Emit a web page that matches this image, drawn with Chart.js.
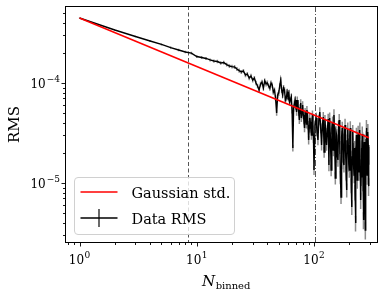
<!DOCTYPE html>
<html><head><meta charset="utf-8">
<style>html,body{margin:0;padding:0;background:#fff;}</style>
<script src="https://cdn.jsdelivr.net/npm/chart.js@4"></script>
</head><body>
<canvas id="c" width="390" height="293" style="width:390px;height:293px;display:block"></canvas>
<script>
// Gaussian std (straight line on log-log axes)
const gaussN = [1, 294];
const gaussStd = [4.47e-4, 2.83e-5];

// Binned data: N values
const binN = [1,2,3,4,5,6,7,8,9,10,11,12,13,14,15,16,17,18,19,20,
  21,22,23,24,25,26,27,28,29,30,31,32,33,34,35,36,37,38,39,40,
  41,42,43,44,45,46,47,48,49,50,51,52,53,54,55,56,57,58,59,60,
  61,62,63,64,65,66,67,68,69,70,71,72,73,74,75,76,77,78,79,80,
  81,82,83,84,85,86,87,88,89,90,91,92,93,94,95,96,97,98,99,100,
  102,104,106,108,110,112,114,116,118,120,
  122,124,126,128,130,132,134,136,138,140,
  142,144,146,148,150,152,154,156,158,160,
  162,164,166,168,170,172,174,176,178,180,
  182,184,186,188,190,192,194,196,198,200,
  202,204,206,208,210,212,214,216,218,220,
  222,224,226,228,230,232,234,236,238,240,
  242,244,246,248,250,252,254,256,258,260,
  262,264,266,268,270,272,274,276,278,280,
  282,284,286,288,290,292,294];
// RMS in units of 1e-5
const rmsE5 = [44.7,33.9,29.2,26.3,24.3,22.6,21.4,20.4,19.9,18.4,18.0,17.6,17.0,16.6,16.4,15.85,16.0,15.3,14.8,14.6,
  14.45,13.8,13.3,12.9,13.2,12.0,12.3,11.2,11.75,10.7,11.2,10.0,9.33,8.51,9.77,10.2,8.91,10.5,9.8,10.0,
  9.33,8.9,10.0,9.55,8.13,8.5,7.08,5.01,7.59,7.94,9.33,10.7,8.51,7.59,8.91,8.51,6.76,7.08,8.13,7.41,
  7.94,6.46,6.76,7.24,5.37,2.24,5.62,6.17,6.76,5.89,5.13,6.76,6.03,5.13,4.27,5.62,6.31,4.47,5.13,6.03,
  4.79,4.27,3.55,5.13,4.47,3.89,5.37,4.79,3.80,2.69,3.55,4.47,4.07,3.55,3.02,4.07,4.79,3.39,2.82,1.35,
  3.80,4.47,3.31,2.69,4.27,5.13,3.55,2.40,3.80,4.57,
  2.04,4.27,3.16,2.40,3.39,4.37,1.51,4.47,2.82,1.35,
  3.55,4.07,2.14,4.79,2.57,1.12,3.24,3.02,1.86,1.70,
  3.63,4.27,2.29,1.15,0.724,2.88,3.55,2.69,1.62,1.51,
  3.09,3.80,2.09,1.26,0.851,2.63,3.47,2.40,1.55,1.35,
  2.95,3.55,1.78,0.95,0.575,1.82,3.24,2.14,1.41,1.20,
  2.24,0.81,0.398,1.95,3.02,2.51,1.07,1.74,3.16,1.905,
  1.29,2.82,3.39,1.45,0.676,1.15,2.24,1.70,3.09,2.69,
  1.02,0.427,1.66,2.57,1.35,0.72,0.339,1.58,2.75,3.55,
  1.91,1.20,2.19,3.24,2.40,0.93,1.905];
// error bar half-length, percent of value
const errPct = [0.8,1.3,1.7,2.0,2.3,2.5,2.7,2.9,3.0,3.2,3.3,3.5,3.6,3.7,3.9,4.0,4.1,4.2,4.3,4.4,
  4.5,4.6,4.7,4.7,4.8,4.9,5.0,5.0,5.1,5.2,5.2,5.3,5.3,5.4,5.4,5.5,5.5,5.6,5.6,5.7,
  5.7,5.8,5.9,6.0,6.1,6.2,6.3,6.3,6.4,6.5,
  6.5,6.6,6.7,6.8,6.9,7.0,7.0,7.1,7.2,7.3,
  7.4,7.5,7.6,7.7,7.8,7.9,8.0,8.0,8.1,8.2,
  8.3,8.4,8.5,8.6,8.7,8.8,8.8,8.9,9.0,9.1,
  9.2,9.3,9.4,9.4,9.5,9.6,9.7,9.8,9.9,9.9,
  10.0,10.1,10.2,10.3,10.3,10.4,10.5,10.6,10.7,10.8,
  10.9,11.0,11.2,11.3,11.4,11.6,11.7,11.8,12.0,12.1,
  12.2,12.3,12.5,12.6,12.7,12.8,13.0,13.1,13.2,13.3,
  13.4,13.5,13.7,13.8,13.9,14.0,14.1,14.2,14.3,14.4,
  14.5,14.6,14.8,14.9,15.0,15.1,15.2,15.3,15.4,15.5,
  15.6,15.7,15.8,15.9,16.0,16.1,16.2,16.3,16.4,16.5,
  16.6,16.7,16.8,16.9,17.0,17.0,17.1,17.2,17.3,17.4,
  17.5,17.6,17.7,17.8,17.8,17.9,18.0,18.1,18.2,18.3,
  18.3,18.4,18.5,18.6,18.7,18.7,18.8,18.9,19.0,19.0,
  19.1,19.2,19.3,19.3,19.4,19.5,19.6,19.6,19.7,19.8,
  19.8,19.9,20.0,20.1,20.1,20.2,20.3];

const dashedN = 8.5;
const dashDotN = 102;

const xMajor = [1, 10, 100];
const xMajorExp = ['0', '1', '2'];
const xMinor = [0.8,0.9,2,3,4,5,6,7,8,9,20,30,40,50,60,70,80,90,200,300];
const yMajor = [1e-5, 1e-4];
const yMajorExp = ['\u22125', '\u22124'];
const yMinor = [3e-6,4e-6,5e-6,6e-6,7e-6,8e-6,9e-6,2e-5,3e-5,4e-5,5e-5,6e-5,7e-5,8e-5,9e-5,2e-4,3e-4,4e-4,5e-4];

const seriesLabels = ['Gaussian std.', 'Data RMS'];
const SERIF = '"DejaVu Serif", serif';

const custom = {
  id: 'custom',
  beforeDatasetsDraw(chart) {
    const {ctx, chartArea: a, scales: {x, y}} = chart;
    ctx.save();
    ctx.beginPath(); ctx.rect(a.left, a.top, a.right - a.left, a.bottom - a.top); ctx.clip();
    // vertical reference lines
    ctx.strokeStyle = '#555'; ctx.lineWidth = 1;
    ctx.setLineDash([4, 2.5]);
    let px = Math.round(x.getPixelForValue(dashedN)) + 0.5;
    ctx.beginPath(); ctx.moveTo(px, a.top); ctx.lineTo(px, a.bottom); ctx.stroke();
    ctx.setLineDash([6, 2, 1, 2]);
    px = Math.round(x.getPixelForValue(dashDotN)) + 0.5;
    ctx.beginPath(); ctx.moveTo(px, a.top); ctx.lineTo(px, a.bottom); ctx.stroke();
    ctx.setLineDash([]);
    // error bars
    ctx.strokeStyle = '#8c8c8c'; ctx.lineWidth = 1.5;
    ctx.beginPath();
    binN.forEach((n, i) => {
      const v = rmsE5[i] * 1e-5, e = v * errPct[i] / 100;
      const X = x.getPixelForValue(n);
      ctx.moveTo(X, y.getPixelForValue(v + e));
      ctx.lineTo(X, y.getPixelForValue(v - e));
    });
    ctx.stroke();
    ctx.restore();
  },
  afterDraw(chart) {
    const {ctx, chartArea: a, scales: {x, y}} = chart;
    ctx.save();
    // frame
    ctx.strokeStyle = '#000'; ctx.lineWidth = 1;
    ctx.strokeRect(Math.round(a.left) + 0.5, Math.round(a.top) + 0.5, Math.round(a.right - a.left) - 1, Math.round(a.bottom - a.top) - 1);
    // ticks
    const bx = Math.round(a.bottom), lx = Math.round(a.left);
    ctx.lineWidth = 0.9;
    ctx.beginPath();
    xMajor.forEach(v => { const p = Math.round(x.getPixelForValue(v)) + 0.5; ctx.moveTo(p, bx); ctx.lineTo(p, bx + 3.5); });
    xMinor.forEach(v => { const p = Math.round(x.getPixelForValue(v)) + 0.5; ctx.moveTo(p, bx); ctx.lineTo(p, bx + 2); });
    yMajor.forEach(v => { const p = Math.round(y.getPixelForValue(v)) + 0.5; ctx.moveTo(lx, p); ctx.lineTo(lx - 3.5, p); });
    yMinor.forEach(v => { const p = Math.round(y.getPixelForValue(v)) + 0.5; ctx.moveTo(lx, p); ctx.lineTo(lx - 2, p); });
    ctx.stroke();
    // tick labels
    ctx.fillStyle = '#000'; ctx.textBaseline = 'alphabetic';
    const big = '12px ' + SERIF, small = '9px ' + SERIF;
    xMajor.forEach((v, i) => {
      const p = x.getPixelForValue(v);
      ctx.font = big; const w1 = ctx.measureText('10').width;
      ctx.font = small; const w2 = ctx.measureText(xMajorExp[i]).width;
      const s = p - (w1 + w2 + 0.5) / 2;
      ctx.font = big; ctx.fillText('10', s, 264);
      ctx.font = small; ctx.fillText(xMajorExp[i], s + w1 + 0.5, 258);
    });
    yMajor.forEach((v, i) => {
      const p = y.getPixelForValue(v);
      ctx.font = small; const w2 = ctx.measureText(yMajorExp[i]).width;
      ctx.font = big; const w1 = ctx.measureText('10').width;
      const right = 60;
      ctx.fillText('10', right - w2 - 1 - w1, p + 5);
      ctx.font = small; ctx.fillText(yMajorExp[i], right - w2, p - 0.5);
    });
    // axis titles
    ctx.save();
    ctx.translate(13, 124.5); ctx.rotate(-Math.PI / 2);
    ctx.font = '15px ' + SERIF; ctx.textAlign = 'center'; ctx.textBaseline = 'alphabetic';
    ctx.fillText('RMS', 0, 5.5);
    ctx.restore();
    ctx.font = 'italic 15px ' + SERIF;
    ctx.fillText('N', 202, 285.5);
    const wN = ctx.measureText('N').width;
    ctx.font = '10px ' + SERIF;
    ctx.fillText('binned', 202 + wN + 0.5, 288.5);
    // legend
    ctx.beginPath();
    ctx.roundRect(74.5, 177.5, 160, 57, 3.5);
    ctx.fillStyle = 'rgba(255,255,255,0.8)'; ctx.fill();
    ctx.strokeStyle = '#d0d0d0'; ctx.lineWidth = 1; ctx.stroke();
    ctx.lineWidth = 1.6;
    ctx.strokeStyle = '#ff0000';
    ctx.beginPath(); ctx.moveTo(80.5, 192); ctx.lineTo(117.5, 192); ctx.stroke();
    ctx.strokeStyle = '#444';
    ctx.beginPath(); ctx.moveTo(99, 209); ctx.lineTo(99, 227); ctx.stroke();
    ctx.strokeStyle = '#000';
    ctx.beginPath(); ctx.moveTo(80.5, 218); ctx.lineTo(117.5, 218); ctx.stroke();
    ctx.fillStyle = '#000';
    ctx.font = '14.5px ' + SERIF; ctx.textBaseline = 'alphabetic';
    ctx.fillText(seriesLabels[0], 131.5, 197.5);
    ctx.fillText(seriesLabels[1], 131.5, 223.5);
    ctx.restore();
  }
};

new Chart(document.getElementById('c'), {
  type: 'line',
  data: {
    datasets: [
      { label: seriesLabels[0], data: gaussN.map((n, i) => ({x: n, y: gaussStd[i]})),
        borderColor: '#ff0000', borderWidth: 1.6, pointRadius: 0, tension: 0 },
      { label: seriesLabels[1], data: binN.map((n, i) => ({x: n, y: rmsE5[i] * 1e-5})),
        borderColor: '#000000', borderWidth: 1.4, pointRadius: 0, tension: 0 }
    ]
  },
  options: {
    responsive: false, animation: false, devicePixelRatio: 1,
    layout: { padding: { top: 6, right: 12, left: 0, bottom: 0 } },
    plugins: { legend: { display: false }, tooltip: { enabled: false } },
    scales: {
      x: { type: 'logarithmic', min: 0.752, max: 351.4,
           grid: { display: false }, border: { display: false }, ticks: { display: false },
           afterFit: s => { s.height = 50; } },
      y: { type: 'logarithmic', min: 2.51e-6, max: 5.89e-4,
           grid: { display: false }, border: { display: false }, ticks: { display: false },
           afterFit: s => { s.width = 65; } }
    }
  },
  plugins: [custom]
});
</script>
</body></html>
